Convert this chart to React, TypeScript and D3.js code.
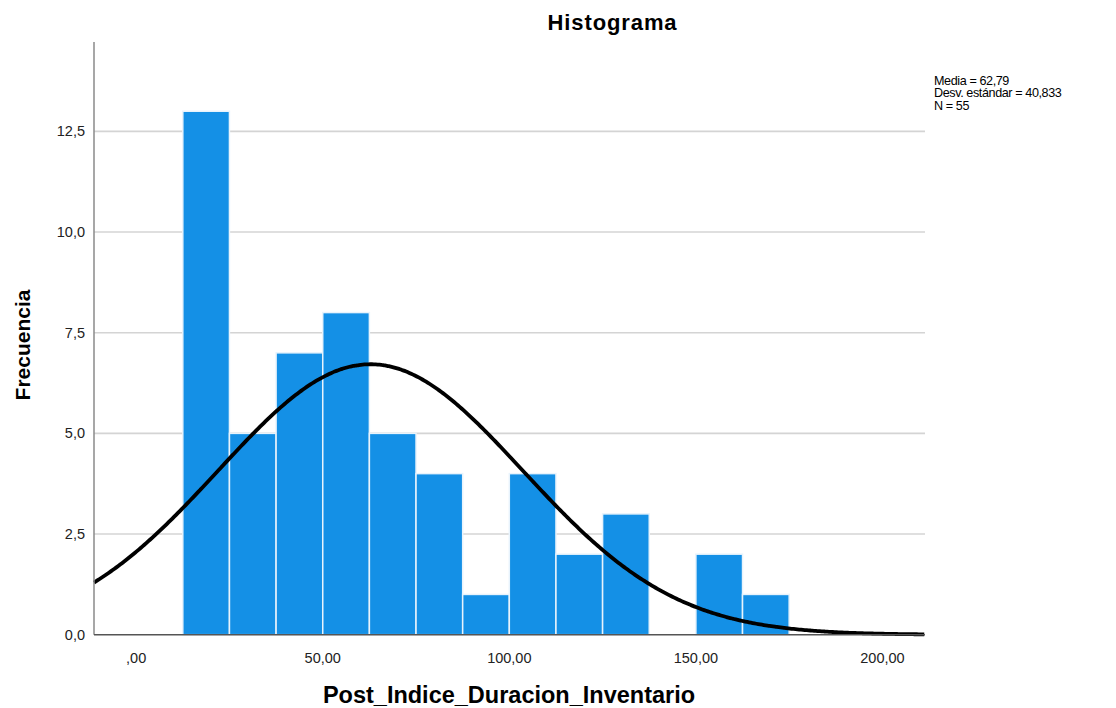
import React from "react";
import * as d3 from "d3";

// Histogram bins (lower edges) and their frequencies
const binStarts = [12.5, 25, 37.5, 50, 62.5, 75, 87.5, 100, 112.5, 125, 137.5, 150, 162.5];
const binWidth = 12.5;
const frequencies = [13, 5, 7, 8, 5, 4, 1, 4, 2, 3, 0, 2, 1];

const yTicks = [0, 2.5, 5, 7.5, 10, 12.5];
const yTickLabels = ["0,0", "2,5", "5,0", "7,5", "10,0", "12,5"];
const xTicks = [0, 50, 100, 150, 200];
const xTickLabels = [",00", "50,00", "100,00", "150,00", "200,00"];

const mean = 62.79;
const sd = 40.833;
const n = 55;
const statLines = ["Media = 62,79", "Desv. estándar = 40,833", "N = 55"];

const W = 1116;
const H = 708;
const left = 94;
const right = 925;
const top = 42;
const bottom = 634.7;

export default function App() {
  const x = d3.scaleLinear().domain([-11.3, 211.4]).range([left, right]);
  const y = d3.scaleLinear().domain([0, 14.72]).range([bottom, top]);

  const curvePts = d3.range(-11.3, 211.41, 0.5).map((v) => {
    const z = (v - mean) / sd;
    const dens = Math.exp(-0.5 * z * z) / (sd * Math.sqrt(2 * Math.PI));
    return [v, n * binWidth * dens] as [number, number];
  });
  const line = d3
    .line<[number, number]>()
    .x((d) => x(d[0]))
    .y((d) => y(d[1]))
    .curve(d3.curveBasis);

  const font = "'Liberation Sans', Arial, sans-serif";

  return (
    <svg width={W} height={H} style={{ position: "absolute", left: 0, top: 0, background: "#fff" }} fontFamily={font}>
      <rect width={W} height={H} fill="#fff" />
      <text x={612.5} y={30} textAnchor="middle" fontSize={22} fontWeight="bold" letterSpacing={0.9} fill="#000">
        Histograma
      </text>

      {/* gridlines */}
      {yTicks.slice(1).map((t) => (
        <line key={t} x1={left} x2={right} y1={y(t)} y2={y(t)} stroke="#d4d4d4" strokeWidth={1.6} />
      ))}

      {/* bars */}
      {binStarts.map((s, i) =>
        frequencies[i] > 0 ? (
          <rect
            key={s}
            x={x(s)}
            y={y(frequencies[i])}
            width={x(s + binWidth) - x(s)}
            height={y(0) - y(frequencies[i])}
            fill="#1490e6"
            stroke="#e8f3fc"
            strokeWidth={1.5}
          />
        ) : null
      )}

      {/* normal curve */}
      <path d={line(curvePts) || ""} fill="none" stroke="#000" strokeWidth={3.8} />

      {/* axes */}
      <line x1={left} x2={left} y1={top} y2={bottom} stroke="#8a8a8a" strokeWidth={1.5} />
      <line x1={left} x2={right} y1={bottom} y2={bottom} stroke="#555" strokeWidth={1.5} />

      {yTicks.map((t, i) => (
        <text key={t} x={85} y={y(t) + 5} textAnchor="end" fontSize={14.5} fill="#222">
          {yTickLabels[i]}
        </text>
      ))}
      {xTicks.map((t, i) => (
        <text key={t} x={x(t)} y={663} textAnchor="middle" fontSize={14.5} fill="#222">
          {xTickLabels[i]}
        </text>
      ))}

      <text x={509} y={703} textAnchor="middle" fontSize={23.5} fontWeight="bold" fill="#000">
        Post_Indice_Duracion_Inventario
      </text>
      <text
        transform={`translate(30, 345) rotate(-90)`}
        textAnchor="middle"
        fontSize={21}
        fontWeight="bold"
        fill="#000"
      >
        Frecuencia
      </text>

      {statLines.map((s, i) => (
        <text key={s} x={934} y={85 + i * 12.3} fontSize={12.6} letterSpacing={-0.4} fill="#000">
          {s}
        </text>
      ))}
    </svg>
  );
}
